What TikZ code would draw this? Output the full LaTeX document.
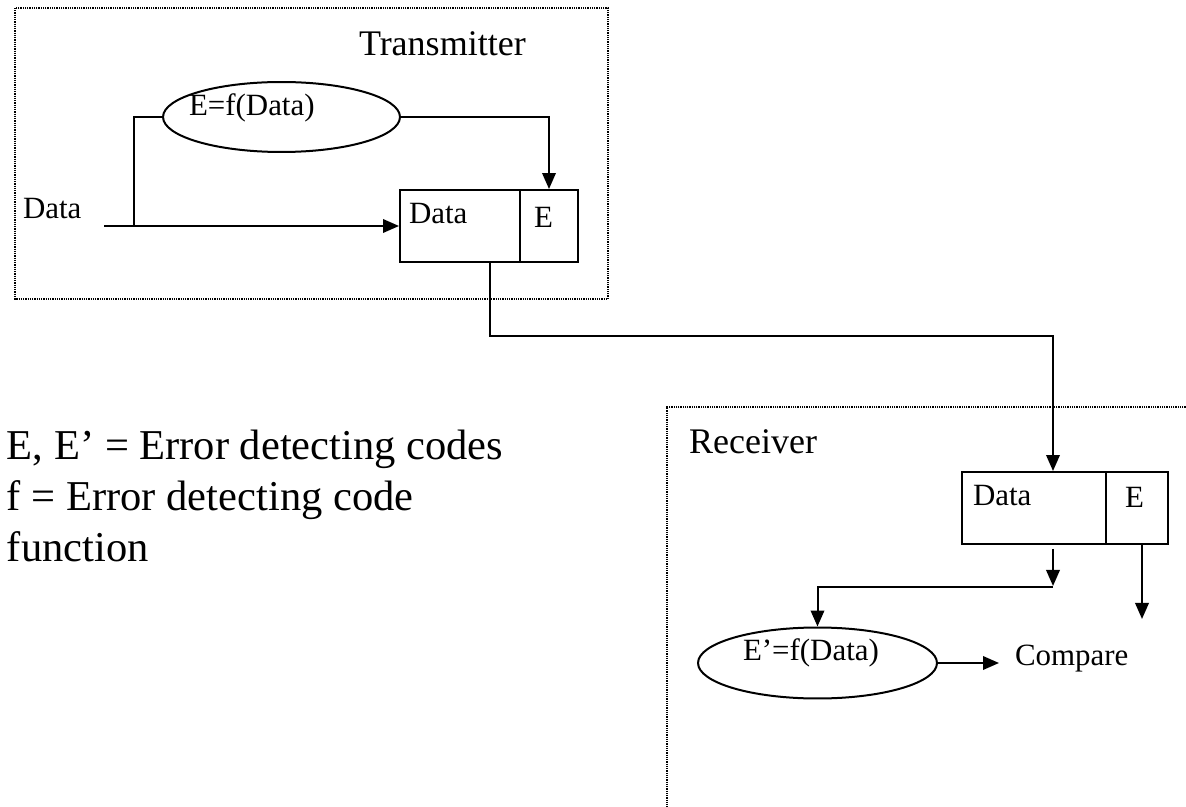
\documentclass[tikz,border=0pt]{standalone}
\usepackage{fontspec}
\setmainfont{Liberation Serif}
\usetikzlibrary{arrows.meta,shapes.geometric}
\begin{document}
\begin{tikzpicture}[x=0.02cm, y=-0.02cm, line width=0.04cm,
    txt/.style={font=\fontsize{17.6}{21}\selectfont, inner sep=0pt, anchor=base west},
    title/.style={font=\fontsize{20.5}{24}\selectfont, inner sep=0pt, anchor=base west},
    legend/.style={font=\fontsize{24.2}{29}\selectfont, inner sep=0pt, anchor=base west},
    frame/.style={line width=0.035cm, dash pattern=on 0.025cm off 0.02cm},
    cell/.style={draw, minimum height=1.44cm, inner sep=0pt},
    func/.style={draw, ellipse, inner sep=0pt},
    arr/.style={-{Triangle[length=0.32cm, width=0.27cm]}}]
    \useasboundingbox (0,0) rectangle (1186,807);
    % Transmitter
    \draw[frame] (15,8) rectangle (608,299);
    \node[title] (ttl) at (358,56) {Transmitter};
    \node[txt] (din) at (22,219) {Data};
    \node[func, minimum width=4.74cm, minimum height=1.4cm] (encT) at (281.5,117) {};
    \node[txt] (encTtxt) at (188,116) {E=f(Data)};
    \node[cell, minimum width=2.4cm] (dataT) at (460,226) {};
    \node[cell, minimum width=1.16cm] (eT) at (549,226) {};
    \node[txt] (dataTtxt) at (408,224) {Data};
    \node[txt] (eTtxt) at (533,228) {E};
    \coordinate (start) at (104,226);
    \coordinate (split) at (134,226);
    \draw[arr] (start) -- (dataT.west);
    \draw (split) |- (encT.west);
    \draw[arr] (encT.east) -| (eT.north);
    % Receiver
    \draw[frame] (1190,407) -- (667,407) -- (667,810);
    \node[title] (rcv) at (688,453) {Receiver};
    \node[cell, minimum width=2.88cm] (dataR) at (1034,508) {};
    \node[cell, minimum width=1.24cm] (eR) at (1137,508) {};
    \node[txt] (dataRtxt) at (972,505) {Data};
    \node[txt] (eRtxt) at (1124,507) {E};
    \node[func, minimum width=4.78cm, minimum height=1.42cm] (encR) at (817.5,663) {};
    \node[txt] (encRtxt) at (742,660) {E’=f(Data)};
    \node[txt] (cmp) at (1014,665) {Compare};
    \coordinate (join) at (1053,587);
    \draw[arr, shorten <=0.08cm] ([xshift=0.38cm]dataR.south) -- ++(0,41);
    \draw[arr] (join) -| (encR.north);
    \draw[arr] ([xshift=0.1cm]eR.south) -- ++(0,74);
    \draw[arr, shorten >=0.3cm] (encR.east) -- (encR.east -| cmp.west);
    % Channel
    \draw[arr] ([xshift=0.6cm]dataT.south) -- ++(0,73) -| ([xshift=0.38cm]dataR.north);
    % Legend
    \node[legend] (key1) at (6,459) {E, E’ = Error detecting codes};
    \node[legend] (key2) at (6,510) {f = Error detecting code};
    \node[legend] (key3) at (6,561) {function};
\end{tikzpicture}
\end{document}
